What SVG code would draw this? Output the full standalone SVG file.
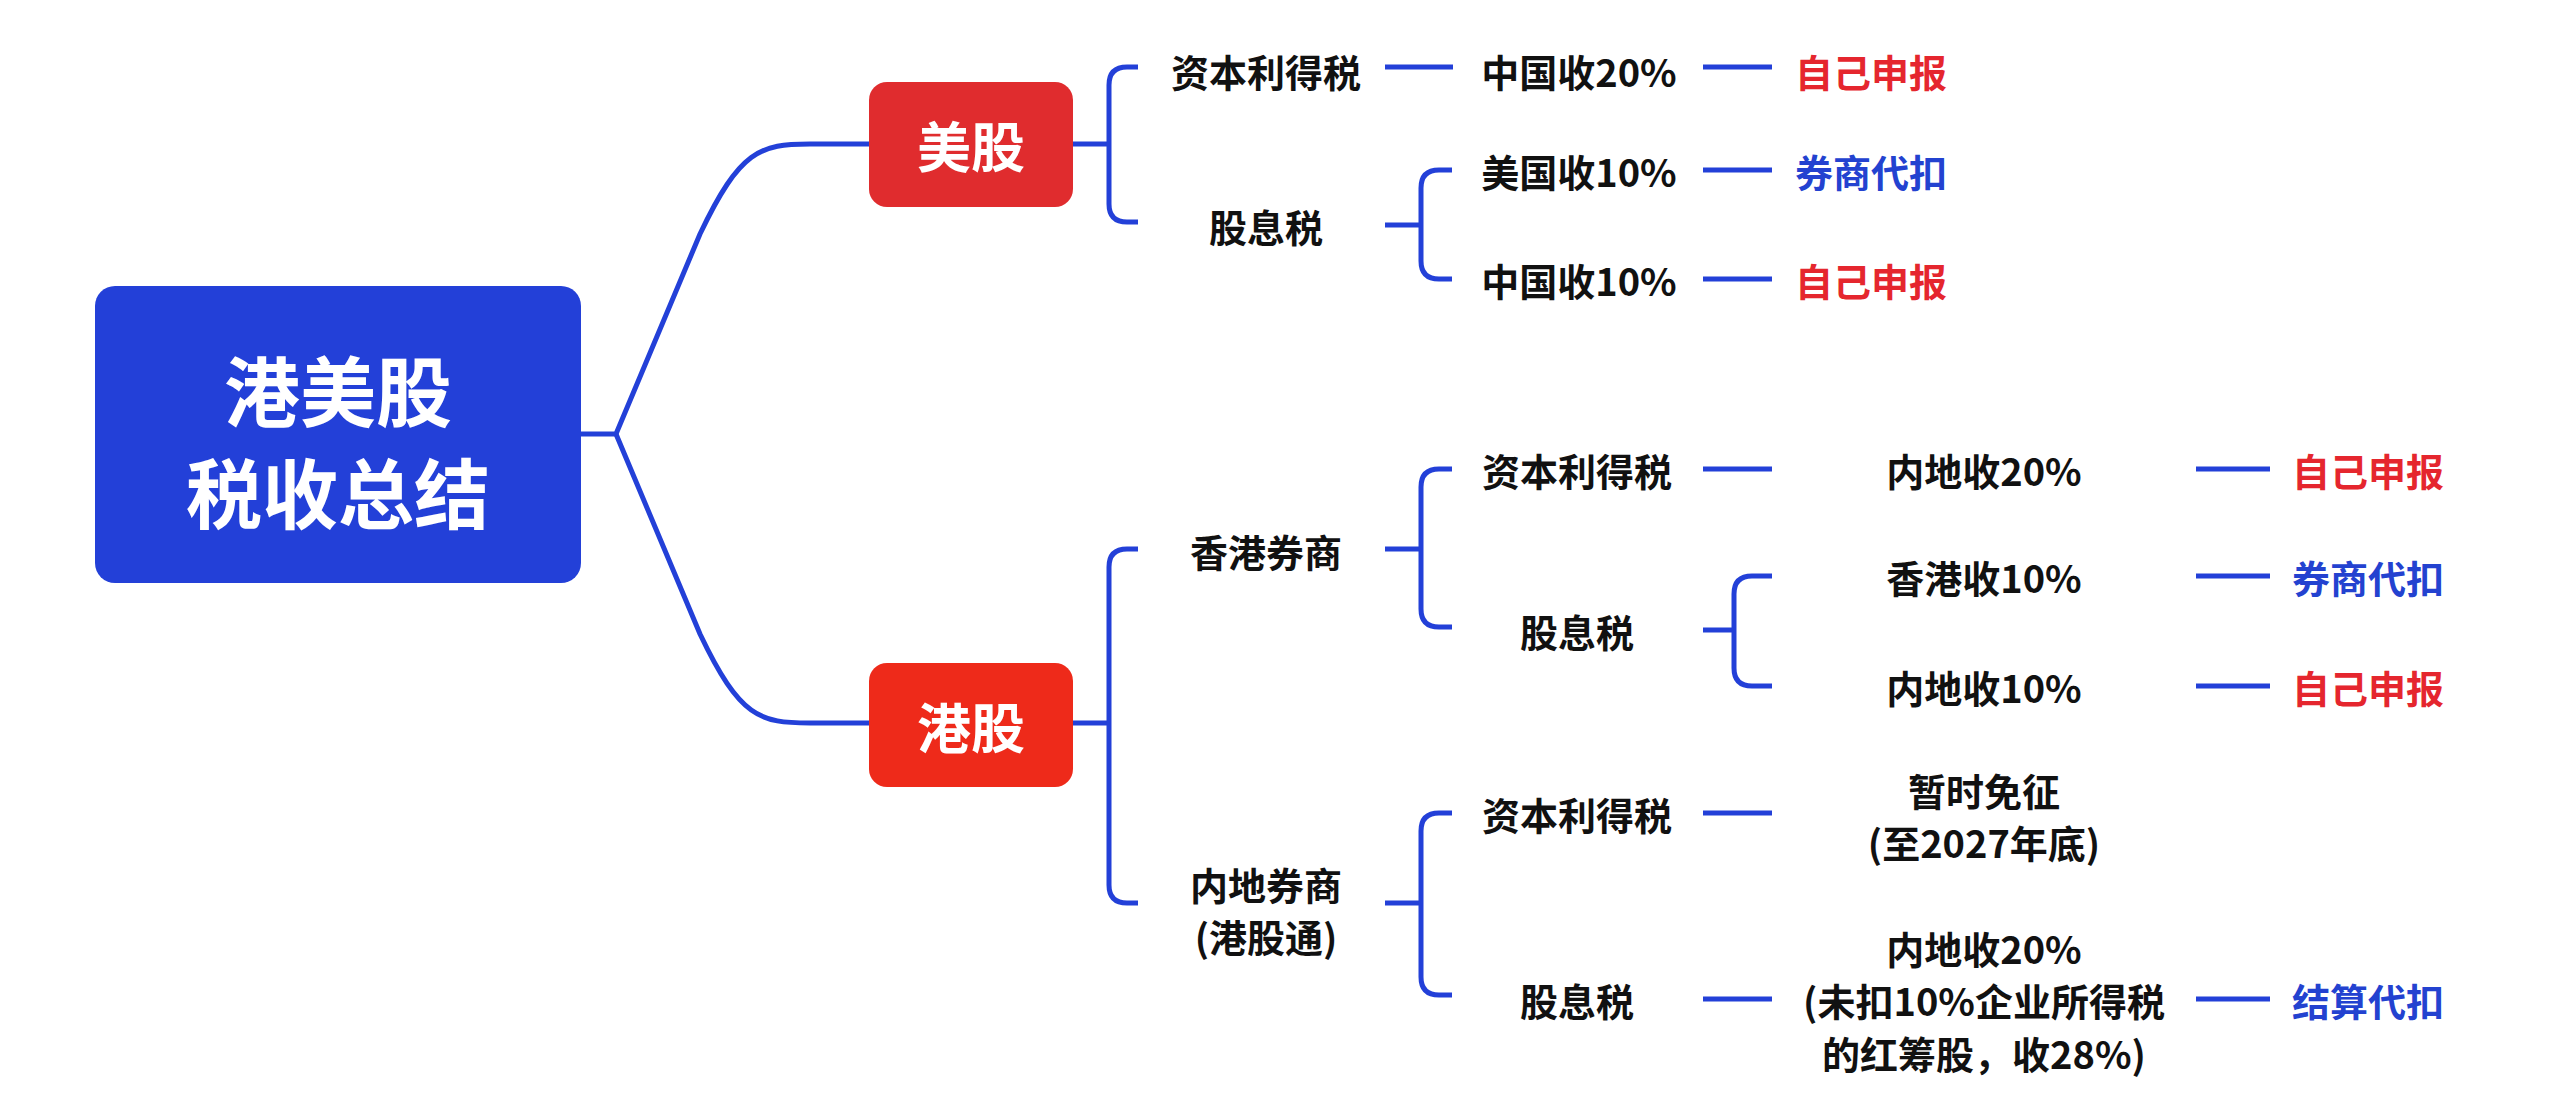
<svg xmlns="http://www.w3.org/2000/svg" width="2560" height="1099" viewBox="0 0 2560 1099">
<style>
.c{fill:none;stroke:#2340D8;stroke-width:5;stroke-linecap:butt}
text{font-family:"Noto Sans CJK SC","Noto Sans",sans-serif;font-weight:700;text-anchor:middle;dominant-baseline:central}
.t{font-size:38px;fill:#111}
.r{font-size:38px;fill:#E5262E}
.b{font-size:38px;fill:#2342D0}
.w{fill:#fff}
</style>
<rect width="2560" height="1099" fill="#fff"/>
<g id="connectors">
<path class="c" d="M581 434H616L700 234C740 150 760 144 810 144H869"/>
<path class="c" d="M616 434L700 634C740 718 760 723 810 723H869"/>
<path class="c" d="M1073 144H1109M1138 67H1127Q1109 67 1109 85V204Q1109 222 1127 222H1138"/>
<path class="c" d="M1385 67H1453M1703 67H1772"/>
<path class="c" d="M1385 225H1421M1452 170H1439Q1421 170 1421 188V261Q1421 279 1439 279H1452"/>
<path class="c" d="M1703 170H1772M1703 279H1772"/>
<path class="c" d="M1073 723H1109M1138 549H1127Q1109 549 1109 567V885Q1109 903 1127 903H1138"/>
<path class="c" d="M1385 549H1421M1452 469H1439Q1421 469 1421 487V609Q1421 627 1439 627H1452"/>
<path class="c" d="M1703 469H1772M2196 469H2270"/>
<path class="c" d="M1703 630H1734M1772 576H1752Q1734 576 1734 594V668Q1734 686 1752 686H1772"/>
<path class="c" d="M2196 576H2270M2196 686H2270"/>
<path class="c" d="M1385 903H1421M1452 813H1439Q1421 813 1421 831V977Q1421 995 1439 995H1452"/>
<path class="c" d="M1703 813H1772M1703 999H1772M2196 999H2270"/>
</g>
<g id="root"><rect x="95" y="286" width="486" height="297" rx="20" fill="#2340D8"/>
<text class="w" x="338" y="388" font-size="76">港美股</text><text class="w" x="338" y="490" font-size="76">税收总结</text></g>
<g id="us"><rect x="869" y="82" width="204" height="125" rx="18" fill="#E02C2E"/><text class="w" x="971" y="144" font-size="54">美股</text></g>
<g id="hk"><rect x="869" y="663" width="204" height="124" rx="18" fill="#EE2A1A"/><text class="w" x="971" y="725" font-size="54">港股</text></g>
<g id="us-cg"><text class="t" x="1266" y="70">资本利得税</text></g>
<g id="us-cn20"><text class="t" x="1579" y="70">中国收20%</text></g>
<g id="us-self1"><text class="r" x="1871" y="70">自己申报</text></g>
<g id="us-div"><text class="t" x="1266" y="225">股息税</text></g>
<g id="us-us10"><text class="t" x="1579" y="170">美国收10%</text></g>
<g id="us-broker"><text class="b" x="1871" y="170">券商代扣</text></g>
<g id="us-cn10"><text class="t" x="1579" y="279">中国收10%</text></g>
<g id="us-self2"><text class="r" x="1871" y="279">自己申报</text></g>
<g id="hkb"><text class="t" x="1266" y="550">香港券商</text></g>
<g id="hkb-cg"><text class="t" x="1577" y="469">资本利得税</text></g>
<g id="hkb-cn20"><text class="t" x="1984" y="469">内地收20%</text></g>
<g id="hkb-self1"><text class="r" x="2368" y="469">自己申报</text></g>
<g id="hkb-div"><text class="t" x="1577" y="630">股息税</text></g>
<g id="hkb-hk10"><text class="t" x="1984" y="576">香港收10%</text></g>
<g id="hkb-broker"><text class="b" x="2368" y="576">券商代扣</text></g>
<g id="hkb-cn10"><text class="t" x="1984" y="686">内地收10%</text></g>
<g id="hkb-self2"><text class="r" x="2368" y="686">自己申报</text></g>
<g id="cnb"><text class="t" x="1266" y="883">内地券商</text><text class="t" x="1266" y="935">(港股通)</text></g>
<g id="cnb-cg"><text class="t" x="1577" y="813">资本利得税</text></g>
<g id="cnb-exempt"><text class="t" x="1984" y="789">暂时免征</text><text class="t" x="1984" y="841">(至2027年底)</text></g>
<g id="cnb-div"><text class="t" x="1577" y="999">股息税</text></g>
<g id="cnb-cn20"><text class="t" x="1984" y="947">内地收20%</text><text class="t" x="1984" y="999">(未扣10%企业所得税</text><text class="t" x="1984" y="1052">的红筹股，收28%)</text></g>
<g id="cnb-settle"><text class="b" x="2368" y="999">结算代扣</text></g>
</svg>
